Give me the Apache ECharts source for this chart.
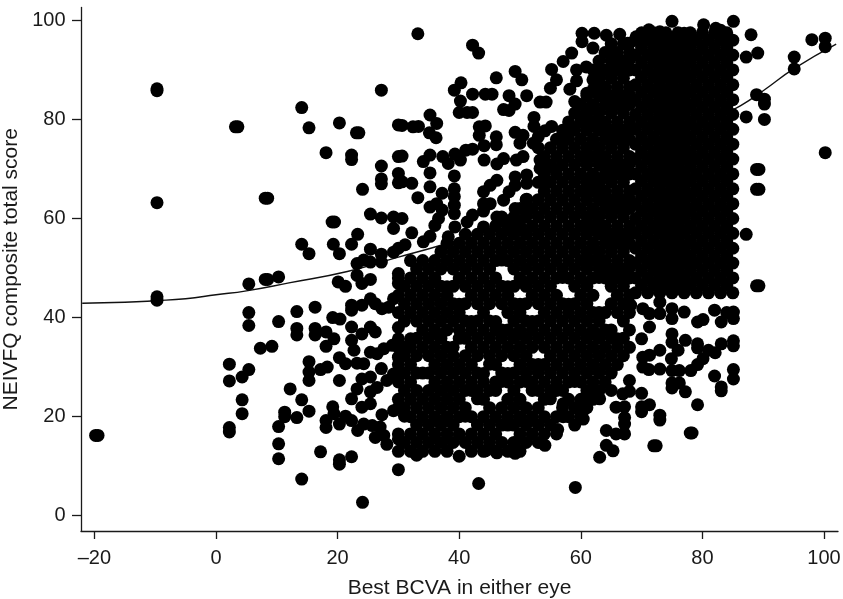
<!DOCTYPE html>
<html><head><meta charset="utf-8">
<style>html,body{margin:0;padding:0;background:#fff}#c{width:843px;height:599px}</style>
<script src="https://cdn.jsdelivr.net/npm/echarts@6/dist/echarts.min.js"></script>
</head><body><div id="c"></div>
<script>
const xTicks=[-20,0,20,40,60,80,100];
const yTicks=[0,20,40,60,80,100];
const xTitle="Best BCVA in either eye";
const yTitle="NEIVFQ composite total score";
const fitBcva=[-22,-15,-10,-5,0,5,12,21.6,30,37,43,50,59,63,70,80,86.3,90,95,102];
const fitScore=[42.9,43.1,43.4,43.8,44.6,45.4,47,49.3,52.2,54.6,57,60.5,65.7,67.4,72.1,78.8,82.8,85.8,90.2,95.2];
const scatteredPairs=[[-9.7,86.2],[-9.7,85.8],[-9.7,63.2],[3.2,78.5],[3.6,78.5],[8.1,64.1],[8.5,64.1],[14.1,82.4],[15.3,78.3],[20.3,79.3],[23.1,77.3],[23.5,77.3],[27.2,85.9],[30,78.9],[18.1,73.3],[22.3,72.8],[22.3,71.9],[30,72.5],[27.2,70.6],[27.2,68],[27.2,67],[30,69.1],[30,67.2],[24.1,65.9],[25.4,60.9],[27.2,60.1],[29.2,60.3],[29.2,58],[19.1,59.3],[19.5,59.3],[23.3,56.8],[14.1,54.8],[15.3,52.9],[19.3,54.8],[20.3,52.9],[22.3,54.8],[25.4,53.8],[27.2,52.8],[29.2,53.2],[23.2,50.9],[24.3,51.6],[25.4,51.2],[27.2,51.2],[30,54],
[-9.7,44.2],[-9.7,43.5],[5.4,46.8],[8.1,47.7],[8.5,47.7],[10.3,48.2],[5.4,41],[5.4,38.4],[10.3,39.2],[13.3,41.2],[16.3,42.1],[13.3,37.8],[13.3,36.5],[7.3,33.8],[9.2,34.2],[2.2,30.6],[2.2,27.2],[5.4,29.5],[4.3,28],[4.3,23.4],[4.3,20.6],[2.2,17.8],[2.2,16.9],[10.3,18],[10.3,14.5],[10.3,11.5],[12.2,25.6],[14.1,23.4],[15.3,21.1],[11.3,20.9],[11.3,20],[13.3,19.8],[14.1,7.4],[17.2,12.9],[20.3,11.3],[20.3,10.4],[22.3,11.9],[24.1,2.7],[30,9.3],[-19.8,16.2],[-19.4,16.2],[15.3,31.1],[15.3,29],[15.3,27.3],[17.2,29.5],[18.3,30],[20.3,27.3],[20.3,31.9],[21.3,30.7],[23.2,30.8],[24.3,30.7],[27.2,29.7],[16.3,37.8],[16.3,36.5],[18.1,37.1],[19.4,35.7],[18.1,34.2],[19.2,40],[20.4,39.7],[22.3,42.5],[22.3,41.5],[24,42.5],[25.4,43.8],[26.2,42.8],[27.3,41.8],[28.4,42.1],[29.2,43.8],[20.1,47.2],[21.3,46.3],[23.2,48.5],[24,46.9],[25.4,47.7],[30,46.9],[30,48.9],[22.3,38.1],[22.3,35.4],[22.7,33.4],[24,36.7],[25.4,38.1],[26.2,37.1],[25.4,33],[26.5,32.7],[27.6,33.7],[29,34.4],[30,38],[30,32],[24,27.6],[25.4,28],[23.2,25.6],[22.3,23.6],[24,21.9],[25.4,22.6],[26.5,25.9],[25.4,25],[28.1,27.3],[29.2,28.6],[29.2,21.2],[27.3,20.4],[19.2,22],[18.1,19.2],[18.1,17.8],[19.4,20.6],[20.3,18.5],[21.3,20.1],[22.3,19.2],[23.3,17.2],[24.3,18.5],[25.7,18.2],[27,17.9],[26.2,15.8],[27.6,16.2],[28.1,14.4],[30,15.5],[43.2,6.5],[59.1,5.7],[33.2,97.3],[42.2,95],[43.2,93.4],[40.3,87.4],[39.2,85.9],[46.1,88.4],[49.2,89.7],[50.3,88],[42.2,85.1],[44.3,85.1],[45.4,85.1],[48.2,84.8],[51.1,84.8],[49.2,83.1],[47.3,82],[48.2,81.8],[53.3,83.5],[54.3,83.5],[40.2,83.7],[40,81.4],[41.3,81.4],[42.2,81.4],[35.2,80.9],[36.3,79.2],[30.6,78.8],[32.4,78.5],[33.3,78.6],[35.1,77.3],[36.2,76.3],[52.3,80.4],[52.3,78.6],[55.2,78.6],[54.1,77.7],[53,76.5],[43.3,78.5],[44.3,78.7],[43.3,76.8],[46.1,76.5],[46.1,74.9],[44.1,74.7],[49.2,77.4],[50.5,76.8],[50,75.2],[52.2,75.2],[30.6,72.6],[35.2,72.8],[34.1,71.5],[37.3,72.5],[38.2,71.1],[39.3,73],[40.2,71.8],[41.1,73.8],[42.2,74],[44.1,71.8],[46.2,71],[47.3,72.1],[49.4,71.8],[50.5,72.5],[35.2,69.2],[39.2,68.6],[32.2,67.1],[35.2,66.4],[30.6,67.4],[37.2,65.1],[33.2,64.2],[39.2,66],[39.2,64.4],[39.2,62.7],[39.2,61],[36.3,63],[35.2,62.3],[37.2,61.7],[36.6,60],[36,58.6],[30.6,60],[32.2,57.1],[31.1,54.7],[34.1,55.3],[35.2,56.4],[38.2,56.3],[39.3,58.3],[41.3,59.3],[42.2,60.7],[44,58.3],[46.2,60.3],[47.3,59.8],[48.5,57.5],[49.2,59.5],[46.2,67.7],[45.1,66.7],[44,65.4],[44,63],[45.1,63],[44,61.5],[49.2,68.4],[49.2,66.7],[51.1,68.8],[51.1,67.1],[48.2,65.4],[47.3,63.7],[51.1,63.9],[49.2,62],[51.1,61.5],[53.3,71.8],[53.3,70.1],[55.2,70.4],[54.1,67.4],
[60.2,97.4],[62.2,97.4],[64.2,97],[66.4,97.2],[60.2,95.7],[67.7,95.4],[65.3,93.6],[62,94.4],[58.5,93.4],[57.1,91.7],[55.2,90.1],[56,88],[55,86.3],[58.2,86.1],[59,83.6],[61,85.3],[61.2,82.2],[60.1,80.5],[58.2,78.5],[57.1,76.5],[59.3,90],[60.9,90.6],[59.3,87.8],[63,90],[62,88],
[88,97.1],[89.1,93.4],[87.2,92.6],[98,96.1],[100.2,96.4],[100.2,94.7],[95.1,92.6],[95.1,90.2],[88.9,85],[90.2,84.1],[90.2,83.1],[87.2,80.5],[90.2,80],[100.2,73.3],[88.9,69.9],[89.3,69.9],[88.9,65.9],[89.3,65.9],[87.2,56.8],[88.9,46.4],[89.3,46.4],
[75,99.8],[80.2,99.1],[85.1,99.8],[71.2,98.1],[73,97.7],[77,97.4],[82.2,98.4],[69.1,96.7],[68,95.4],[83,98],
[72,14.1],[72.4,14.1],[78,16.7],[78.3,16.7],[79.2,22.4],[73,20.3],[73,19.3],[70,22],[70,21],[71.3,22.4],[67.2,16.5],[67.2,18.5],[67.2,19.8],[67.2,22],[70,24.7],[68,25.1],[66.9,24.6],[68,27.3],[83.1,26],[83.1,25.2],[82,28.2],[85.1,29.5],[85.1,27.6],[75,26.8],[75,25.8],[76.2,26.8],[77.2,25],[75,29.3],[76.2,29.3],[78.1,29.3],[79.2,30.5],[80.1,31.7],[81,33.4],[82.1,32.9],[83.1,34.7],[85.1,35.3],[85.1,34.3],[79.2,34.7],[79.2,33.9],[77.2,35.4],[76,33.4],[75,36.7],[75,35],[73,33.4],[73,29.6],[71.2,29.5],[70.2,30],[71.3,32.4],[70.2,32],[74.9,31.7],[70,35.7],[71.3,38.1],[73,43.1],[73,40.8],[75,41.8],[75,39.8],[71.3,40.8],[68.2,42.5],[70.2,41.8],[77,41.1],[79.2,39.1],[80.1,39.6],[82,41.5],[83.1,39.1],[85.1,41.1],[85.1,39.8],[84,41],
[54.1,14.2],[49.2,12.6],[46.2,12.7],[44.3,13.1],[57.1,22.6],[57.1,20],[60.4,21.2],[60.4,19.5],[63.1,11.8],[64.2,14.2],[65.3,13.1],[64.2,17.2],[65.8,16.5],[65.8,21.9],[63.1,23.6],[61.5,23.9],[56.2,17.4]];
const holeEdgePairs=[[30,21.8],[30,35.7],[31,20.1],[31,34],[32,35.7],[34,28.8],[38,46.2],[39,34],[40,35.8],[40,42.7],[41,20.1],[42,25.3],[42,39.2],[43,23.6],[44,28.7],[45,30.6],[46,25.3],[46,39.2],[47,27.1],[47,37.5],[47,51.6],[48,18.3],[48,28.7],[48,46.2],[50,42.7],[51,27.1],[52,25.3],[52,39.2],[53,30.5],[55,23.6],[56,25.3],[57,48.1],[58,42.7],[59,27.1],[63,41],[63,48.1],[65,37.5],[66,35.7]];
const midColumnBcva=[30,31,32,33,34,35,36,37,38,39,40,41,42,43,44,45,46,47,48,49,50,51,52,53,54,55,56,57,58,59,60,61,62,63,64,65,66,67,68];
const midColumnScores=[
[13,16.5,23.5,27,30.5,34,41,44.5,48],
[14.8,21.8,25.3,28.8,32.3,39.3,42.8,46.3],
[13,16.5,20,23.5,27,30.5,34,41,44.5,48,51.5],
[12.2,14.8,18.3,21.8,25.3,28.8,32.3,35.8,39.3,42.8,46.3,49.8],
[13,16.5,20,23.5,34,37.5,41,44.5,48,51.5],
[14.8,18.3,21.8,25.3,28.8,32.3,35.8,39.3,42.8,46.3,49.8],
[13,16.5,20,23.5,27,30.5,34,37.5,41,44.5,48,51.5],
[14.8,18.3,21.8,25.3,28.8,32.3,35.8,39.3,42.8,46.3,49.8,53.3],
[13,16.5,20,23.5,27,30.5,34,37.5,41,44.5,51.5,55],
[14.8,18.3,21.8,25.3,28.8,32.3,39.3,42.8,46.3,49.8,53.3],
[12,16.5,20,23.5,27,30.5,37.5,41,48,51.5,55],
[14.8,21.8,25.3,28.8,32.3,35.8,39.3,42.8,46.3,49.8,53.3,56.8],
[13,16.5,20,27,30.5,34,37.5,44.5,48,51.5,55],
[14.8,18.3,25.3,28.8,32.3,35.8,39.3,42.8,46.3,49.8,53.3,56.8],
[13,16.5,20,23.5,27,34,37.5,41,44.5,48,51.5,55],
[14.8,18.3,21.8,25.3,32.3,35.8,39.3,42.8,46.3,49.8,53.3,56.8],
[13,16.5,20,27,30.5,34,37.5,44.5,48,51.5,55,58.5],
[14.8,18.3,21.8,28.8,32.3,35.8,42.8,46.3,53.3,56.8,60.3],
[13,20,23.5,27,34,37.5,41,44.5,51.5,55,58.5],
[14.8,18.3,21.8,25.3,28.8,32.3,35.8,39.3,42.8,46.3,49.8,53.3,56.8,60.3],
[13,16.5,20,23.5,27,30.5,34,37.5,41,48,51.5,55,58.5,62],
[14.8,18.3,21.8,28.8,32.3,35.8,39.3,42.8,46.3,49.8,53.3,56.8,60.3,63.8],
[16.5,20,27,30.5,34,37.5,44.5,48,51.5,55,58.5,62],
[14.8,18.3,21.8,25.3,28.8,35.8,39.3,42.8,46.3,49.8,53.3,56.8,60.3,63.8,67.3,74.3],
[16.5,20,23.5,27,30.5,34,37.5,41,44.5,48,51.5,55,58.5,62,65.5,69,72.5],
[18.3,25.3,28.8,32.3,35.8,39.3,42.8,46.3,49.8,53.3,56.8,60.3,63.8,67.3,70.8,74.3],
[16.5,20,27,30.5,34,37.5,41,44.5,48,51.5,55,58.5,62,65.5,69,72.5,76],
[21.8,25.3,28.8,32.3,35.8,39.3,42.8,49.8,53.3,56.8,60.3,63.8,67.3,70.8,74.3,77.8],
[20,23.5,27,30.5,34,37.5,41,48,51.5,55,58.5,62,65.5,69,72.5,76,79.5],
[18.3,21.8,28.8,32.3,35.8,39.3,42.8,46.3,49.8,53.3,56.8,60.3,63.8,67.3,70.8,74.3,77.8,81.3],
[20,23.5,27,30.5,34,37.5,41,44.5,48,51.5,55,58.5,62,65.5,69,72.5,76,79.5,83],
[21.8,25.3,28.8,32.3,35.8,39.3,42.8,46.3,49.8,53.3,56.8,60.3,63.8,67.3,70.8,74.3,77.8,81.3,84.8],
[23.5,27,30.5,34,37.5,41,44.5,48,51.5,55,58.5,62,65.5,69,72.5,76,79.5,83,90],
[25.3,28.8,32.3,35.8,39.3,49.8,53.3,56.8,60.3,63.8,67.3,70.8,74.3,77.8,81.3,84.8,88.3,91.8],
[27,30.5,34,37.5,41,48,51.5,55,58.5,62,65.5,69,72.5,76,79.5,83,86.5,90,93.5],
[25.3,28.8,32.3,35.8,42.8,46.3,49.8,53.3,56.8,60.3,63.8,67.3,70.8,74.3,77.8,81.3,84.8,88.3,91.8,95.3],
[30.5,34,41,44.5,48,51.5,55,58.5,62,65.5,69,72.5,76,79.5,83,86.5,90,93.5],
[32.3,35.8,39.3,42.8,46.3,49.8,53.3,56.8,60.3,63.8,67.3,70.8,74.3,77.8,81.3,84.8,88.3,91.8,95.3],
[34,37.5,41,44.5,48,51.5,55,58.5,62,65.5,69,72.5,76,79.5,83,86.5,90,93.5]];
const packedColumnBcva=[61,62,63,64,65,66,67,68];
const packedColumnScores=[
[52,59,66,73,80],
[54,61,68,75,82,86],
[52,59,66,73,80,87],
[50,57,64,71,78,85],
[48,55,62,69,76,83,90],
[50,57,64,71,78,85,92],
[48,55,62,69,76,83,90],
[50,57,64,71,78,85,92]];
const topColumnBcva=[69,70,71,72,73,74,75,76,77,78,79,80,81,82,83,84,85];
const topScoresA=[45,48,51,54,57,60,63,66,69,72,75,78,81,84,87,90,93,96];
const topScoresB=[46.5,49.5,52.5,55.5,58.5,61.5,64.5,67.5,70.5,73.5,76.5,79.5,82.5,85.5,88.5,91.5,94.5,97.5];
const points=scatteredPairs.concat(holeEdgePairs);
midColumnBcva.forEach((b,i)=>midColumnScores[i].forEach(s=>points.push([b,s])));
packedColumnBcva.forEach((b,i)=>packedColumnScores[i].forEach(s=>points.push([b,s])));
topColumnBcva.forEach((b,i)=>(i%2?topScoresB:topScoresA).forEach(s=>points.push([b,s])));
const font='"Liberation Sans",Arial,sans-serif';
const ink='#1a1a1a';
const chart=echarts.init(document.getElementById('c'),null,{renderer:'canvas'});
chart.setOption({
 animation:false,backgroundColor:'#fff',
 grid:{left:81,right:5,top:7.5,bottom:68,containLabel:false,outerBoundsMode:'none'},
 xAxis:{type:'value',min:-22.2,max:102.3,splitLine:{show:false},
  axisLine:{onZero:false,lineStyle:{color:ink,width:1.3}},
  axisTick:{length:8,lineStyle:{color:ink,width:1.3},customValues:xTicks},
  axisLabel:{color:ink,fontFamily:font,fontSize:20,margin:17,customValues:xTicks,formatter:v=>String(v).replace('-','\u2013')},
  name:xTitle,nameLocation:'middle',nameGap:47,nameTextStyle:{color:ink,fontFamily:font,fontSize:21}},
 yAxis:{type:'value',min:-3.09,max:102.6,splitLine:{show:false},
  axisLine:{onZero:false,lineStyle:{color:ink,width:1.3}},
  axisTick:{length:9,lineStyle:{color:ink,width:1.3},customValues:yTicks},
  axisLabel:{color:ink,fontFamily:font,fontSize:20,margin:15.5,customValues:yTicks},
  name:yTitle,nameLocation:'middle',nameGap:54,nameTextStyle:{color:ink,fontFamily:font,fontSize:21}},
 series:[
  {type:'line',data:fitBcva.map((b,i)=>[b,fitScore[i]]),smooth:true,showSymbol:false,symbol:'none',z:1,lineStyle:{color:'#111',width:1.4}},
  {type:'scatter',data:points,symbol:'circle',symbolSize:13,z:2,itemStyle:{color:'#000',opacity:1},large:false}
 ]
});
</script></body></html>
